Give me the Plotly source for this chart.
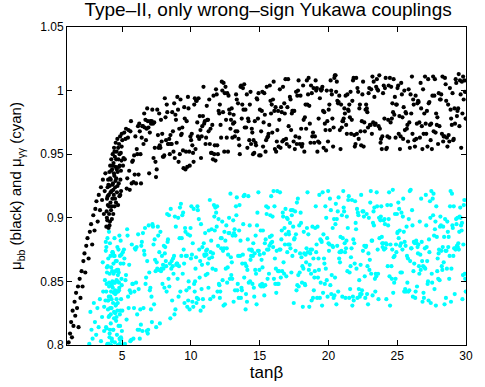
import plotly.graph_objects as go

# ---- mu_bb (black) ----
# low tanb tail and the dense tip near tanb ~ 4, as (tanb, mu) pairs
bb_tail = [
    (1.12, 0.802), (1.22, 0.809), (1.30, 0.818), (1.36, 0.806), (1.41, 0.827), (1.47, 0.815), (1.55, 0.834),
    (1.60, 0.823), (1.66, 0.841), (1.73, 0.829), (1.80, 0.846), (1.84, 0.814), (1.92, 0.852), (1.98, 0.837),
    (2.06, 0.858), (2.13, 0.846), (2.19, 0.866), (2.27, 0.872), (2.33, 0.857), (2.40, 0.878), (2.49, 0.884),
    (2.57, 0.868), (2.66, 0.889), (2.75, 0.895), (2.83, 0.879), (2.91, 0.902), (3.00, 0.890), (3.06, 0.907),
    (3.14, 0.913), (3.23, 0.897), (3.31, 0.918), (3.40, 0.906), (3.47, 0.924), (3.55, 0.914), (3.61, 0.930),
    (3.68, 0.903), (3.74, 0.921), (3.79, 0.935),
]
bb_tip = [
    (3.86, 0.893), (3.88, 0.905), (3.91, 0.915), (3.93, 0.898), (3.95, 0.924), (3.97, 0.910), (3.99, 0.930),
    (4.02, 0.892), (4.04, 0.918), (4.06, 0.903), (4.08, 0.936), (4.10, 0.925), (4.12, 0.897), (4.14, 0.941),
    (4.16, 0.912), (4.18, 0.930), (4.20, 0.906), (4.22, 0.946), (4.24, 0.921), (4.26, 0.899), (4.28, 0.938),
    (4.30, 0.915), (4.32, 0.950), (4.34, 0.927), (4.36, 0.903), (4.38, 0.943), (4.40, 0.918), (4.42, 0.955),
    (4.44, 0.933), (4.46, 0.909), (4.48, 0.948), (4.50, 0.924), (4.52, 0.940), (4.54, 0.959), (4.56, 0.912),
    (4.58, 0.931), (4.61, 0.952), (4.63, 0.920), (4.66, 0.962), (4.68, 0.936), (4.71, 0.910), (4.73, 0.946),
    (4.76, 0.927), (4.78, 0.958), (4.81, 0.917), (4.83, 0.941), (4.86, 0.964), (4.88, 0.930), (4.91, 0.951),
    (4.93, 0.921), (4.96, 0.945), (4.98, 0.966), (3.90, 0.900), (3.96, 0.917), (4.01, 0.926), (4.05, 0.909),
    (4.09, 0.894), (4.13, 0.931), (4.17, 0.920), (4.21, 0.937), (4.25, 0.909), (4.29, 0.926), (4.33, 0.941),
    (4.37, 0.922), (4.41, 0.935), (4.45, 0.952), (4.49, 0.915), (4.53, 0.929), (4.57, 0.946), (4.62, 0.938),
    (4.67, 0.925), (4.72, 0.955), (4.77, 0.940), (4.82, 0.950), (4.87, 0.918), (4.92, 0.937), (4.97, 0.956),
]

# the band from tanb = 5 to 30
bb_band_tanb = [
    5.02, 5.07, 5.11, 5.16, 5.20, 5.25, 5.29, 5.34, 5.38, 5.43, 5.47, 5.52, 5.56, 5.61, 5.65, 5.70, 5.74, 5.79, 5.83, 5.88, 5.92, 5.97,
    6.02, 6.07, 6.11, 6.16, 6.20, 6.25, 6.29, 6.34, 6.38, 6.43, 6.47, 6.52, 6.56, 6.61, 6.65, 6.70, 6.74, 6.79, 6.83, 6.88, 6.92, 6.97,
    7.02, 7.07, 7.11, 7.16, 7.20, 7.25, 7.29, 7.34, 7.38, 7.43, 7.47, 7.52, 7.56, 7.61, 7.65, 7.70, 7.74, 7.79, 7.83, 7.88, 7.92, 7.97,
    8.02, 8.07, 8.11, 8.16, 8.20, 8.25, 8.29, 8.34, 8.38, 8.43, 8.47, 8.52, 8.56, 8.61, 8.65, 8.70, 8.74, 8.79, 8.83, 8.88, 8.92, 8.97,
    9.02, 9.07, 9.11, 9.16, 9.20, 9.25, 9.29, 9.34, 9.38, 9.43, 9.47, 9.52, 9.56, 9.61, 9.65, 9.70, 9.74, 9.79, 9.83, 9.88, 9.92, 9.97,
    10.02, 10.07, 10.11, 10.16, 10.20, 10.25, 10.29, 10.34, 10.38, 10.43, 10.47, 10.52, 10.56, 10.61, 10.65, 10.70, 10.74, 10.79, 10.83, 10.88, 10.92, 10.97,
    11.02, 11.07, 11.11, 11.16, 11.20, 11.25, 11.29, 11.34, 11.38, 11.43, 11.47, 11.52, 11.56, 11.61, 11.65, 11.70, 11.74, 11.79, 11.83, 11.88, 11.92, 11.97,
    12.02, 12.07, 12.11, 12.16, 12.20, 12.25, 12.29, 12.34, 12.38, 12.43, 12.47, 12.52, 12.56, 12.61, 12.65, 12.70, 12.74, 12.79, 12.83, 12.88, 12.92, 12.97,
    13.02, 13.07, 13.11, 13.16, 13.20, 13.25, 13.29, 13.34, 13.38, 13.43, 13.47, 13.52, 13.56, 13.61, 13.65, 13.70, 13.74, 13.79, 13.83, 13.88, 13.92, 13.97,
    14.02, 14.07, 14.11, 14.16, 14.20, 14.25, 14.29, 14.34, 14.38, 14.43, 14.47, 14.52, 14.56, 14.61, 14.65, 14.70, 14.74, 14.79, 14.83, 14.88, 14.92, 14.97,
    15.02, 15.07, 15.11, 15.16, 15.20, 15.25, 15.29, 15.34, 15.38, 15.43, 15.47, 15.52, 15.56, 15.61, 15.65, 15.70, 15.74, 15.79, 15.83, 15.88, 15.92, 15.97,
    16.02, 16.07, 16.11, 16.16, 16.20, 16.25, 16.29, 16.34, 16.38, 16.43, 16.47, 16.52, 16.56, 16.61, 16.65, 16.70, 16.74, 16.79, 16.83, 16.88, 16.92, 16.97,
    17.02, 17.07, 17.11, 17.16, 17.20, 17.25, 17.29, 17.34, 17.38, 17.43, 17.47, 17.52, 17.56, 17.61, 17.65, 17.70, 17.74, 17.79, 17.83, 17.88, 17.92, 17.97,
    18.02, 18.07, 18.11, 18.16, 18.20, 18.25, 18.29, 18.34, 18.38, 18.43, 18.47, 18.52, 18.56, 18.61, 18.65, 18.70, 18.74, 18.79, 18.83, 18.88, 18.92, 18.97,
    19.02, 19.07, 19.11, 19.16, 19.20, 19.25, 19.29, 19.34, 19.38, 19.43, 19.47, 19.52, 19.56, 19.61, 19.65, 19.70, 19.74, 19.79, 19.83, 19.88, 19.92, 19.97,
    20.02, 20.07, 20.11, 20.16, 20.20, 20.25, 20.29, 20.34, 20.38, 20.43, 20.47, 20.52, 20.56, 20.61, 20.65, 20.70, 20.74, 20.79, 20.83, 20.88, 20.92, 20.97,
    21.02, 21.07, 21.11, 21.16, 21.20, 21.25, 21.29, 21.34, 21.38, 21.43, 21.47, 21.52, 21.56, 21.61, 21.65, 21.70, 21.74, 21.79, 21.83, 21.88, 21.92, 21.97,
    22.02, 22.07, 22.11, 22.16, 22.20, 22.25, 22.29, 22.34, 22.38, 22.43, 22.47, 22.52, 22.56, 22.61, 22.65, 22.70, 22.74, 22.79, 22.83, 22.88, 22.92, 22.97,
    23.02, 23.07, 23.11, 23.16, 23.20, 23.25, 23.29, 23.34, 23.38, 23.43, 23.47, 23.52, 23.56, 23.61, 23.65, 23.70, 23.74, 23.79, 23.83, 23.88, 23.92, 23.97,
    24.02, 24.07, 24.11, 24.16, 24.20, 24.25, 24.29, 24.34, 24.38, 24.43, 24.47, 24.52, 24.56, 24.61, 24.65, 24.70, 24.74, 24.79, 24.83, 24.88, 24.92, 24.97,
    25.02, 25.07, 25.11, 25.16, 25.20, 25.25, 25.29, 25.34, 25.38, 25.43, 25.47, 25.52, 25.56, 25.61, 25.65, 25.70, 25.74, 25.79, 25.83, 25.88, 25.92, 25.97,
    26.02, 26.07, 26.11, 26.16, 26.20, 26.25, 26.29, 26.34, 26.38, 26.43, 26.47, 26.52, 26.56, 26.61, 26.65, 26.70, 26.74, 26.79, 26.83, 26.88, 26.92, 26.97,
    27.02, 27.07, 27.11, 27.16, 27.20, 27.25, 27.29, 27.34, 27.38, 27.43, 27.47, 27.52, 27.56, 27.61, 27.65, 27.70, 27.74, 27.79, 27.83, 27.88, 27.92, 27.97,
    28.02, 28.07, 28.11, 28.16, 28.20, 28.25, 28.29, 28.34, 28.38, 28.43, 28.47, 28.52, 28.56, 28.61, 28.65, 28.70, 28.74, 28.79, 28.83, 28.88, 28.92, 28.97,
    29.02, 29.07, 29.11, 29.16, 29.20, 29.25, 29.29, 29.34, 29.38, 29.43, 29.47, 29.52, 29.56, 29.61, 29.65, 29.70, 29.74, 29.79, 29.83, 29.88, 29.92, 29.97,
]
bb_band_mu = [
    0.961, 0.941, 0.947, 0.967, 0.946, 0.962, 0.970, 0.923, 0.931, 0.963, 0.969, 0.937, 0.922, 0.968, 0.976, 0.927, 0.944, 0.945, 0.928, 0.949, 0.934, 0.964,
    0.927, 0.954, 0.950, 0.972, 0.934, 0.974, 0.968, 0.950, 0.927, 0.963, 0.972, 0.972, 0.958, 0.982, 0.971, 0.977, 0.961, 0.970, 0.986, 0.976, 0.971, 0.935,
    0.967, 0.976, 0.974, 0.976, 0.985, 0.974, 0.947, 0.975, 0.955, 0.944, 0.932, 0.938, 0.985, 0.965, 0.955, 0.982, 0.957, 0.955, 0.977, 0.960, 0.966, 0.948,
    0.948, 0.949, 0.994, 0.979, 0.961, 0.989, 0.983, 0.958, 0.958, 0.962, 0.950, 0.965, 0.958, 0.958, 0.983, 0.968, 0.952, 0.990, 0.947, 0.981, 0.977, 0.959,
    0.995, 0.985, 0.944, 0.970, 0.950, 0.993, 0.965, 0.966, 0.971, 0.953, 0.939, 0.987, 0.978, 0.938, 0.952, 0.976, 0.940, 0.995, 0.986, 0.952, 0.941, 0.964,
    0.961, 0.966, 0.957, 0.951, 0.944, 0.989, 0.994, 0.954, 0.992, 0.992, 0.975, 0.964, 0.994, 0.962, 0.980, 0.969, 0.947, 0.964, 0.972, 0.980, 1.003, 0.974,
    0.976, 0.958, 0.963, 0.988, 0.977, 0.977, 0.968, 0.993, 0.958, 0.970, 0.951, 0.951, 0.973, 0.946, 0.996, 0.950, 0.957, 0.945, 1.001, 0.997, 0.957, 0.950,
    0.984, 0.982, 0.989, 0.973, 0.963, 1.007, 1.000, 0.983, 1.006, 0.952, 0.998, 1.003, 0.977, 0.963, 0.998, 0.952, 0.996, 0.985, 0.982, 0.970, 0.977, 0.986,
    0.963, 0.974, 0.981, 0.975, 0.964, 0.968, 0.997, 0.993, 0.968, 0.990, 0.962, 0.957, 0.950, 1.003, 1.004, 0.978, 0.989, 1.002, 0.985, 1.005, 0.971, 0.985,
    0.971, 0.997, 0.955, 0.978, 0.976, 0.961, 0.989, 0.999, 0.958, 0.970, 0.967, 0.950, 0.961, 0.951, 0.976, 0.959, 0.957, 0.994, 0.993, 0.978, 0.998, 0.949,
    0.985, 0.949, 0.968, 0.984, 0.999, 0.956, 0.975, 0.998, 0.981, 0.952, 0.961, 1.003, 0.963, 0.964, 0.966, 0.973, 1.004, 0.992, 0.982, 0.989, 0.967, 0.993,
    1.007, 0.984, 0.954, 0.987, 0.952, 0.960, 0.969, 0.984, 0.956, 0.977, 1.001, 0.955, 0.987, 0.983, 0.960, 1.003, 0.961, 0.990, 0.982, 1.009, 0.962, 0.958,
    0.987, 1.009, 0.972, 0.956, 0.995, 0.993, 0.969, 0.982, 0.984, 0.984, 0.960, 0.984, 0.954, 0.964, 0.999, 0.958, 0.996, 1.000, 1.008, 0.963, 0.958, 0.996,
    0.970, 0.956, 0.958, 1.004, 0.977, 0.952, 0.979, 0.989, 0.970, 1.008, 0.989, 0.997, 1.010, 0.988, 0.974, 0.959, 1.004, 0.998, 0.964, 0.967, 1.002, 0.959,
    0.964, 1.008, 1.000, 1.002, 0.952, 0.960, 0.978, 0.959, 0.994, 1.001, 1.000, 1.001, 1.003, 0.984, 0.955, 0.983, 0.974, 0.969, 0.953, 1.000, 0.976, 0.960,
    0.985, 0.989, 0.969, 1.008, 1.000, 0.997, 0.978, 0.956, 0.971, 1.010, 1.012, 1.012, 0.999, 1.007, 0.992, 0.990, 0.991, 0.996, 0.969, 0.954, 0.989, 0.971,
    0.976, 0.976, 0.978, 0.986, 0.982, 0.996, 0.973, 0.966, 0.997, 0.985, 0.984, 0.989, 0.979, 0.999, 0.966, 0.977, 0.992, 1.008, 1.010, 0.965, 0.956, 0.958,
    1.010, 0.966, 1.002, 0.999, 0.962, 0.986, 0.989, 0.968, 0.957, 0.976, 0.997, 1.007, 0.956, 0.975, 0.968, 0.985, 0.989, 0.986, 0.983, 0.971, 0.998, 1.002,
    0.973, 0.973, 1.001, 0.966, 1.011, 0.975, 1.007, 0.995, 0.973, 0.974, 1.003, 1.009, 1.001, 1.000, 0.972, 1.012, 0.970, 0.959, 0.962, 0.954, 0.964, 0.998,
    1.004, 0.978, 1.002, 1.010, 0.954, 0.955, 0.964, 0.977, 1.004, 0.963, 1.010, 0.975, 1.003, 0.978, 0.990, 0.983, 1.009, 0.981, 0.995, 0.963, 0.989, 0.989,
    1.002, 1.004, 0.966, 0.980, 0.954, 0.964, 1.006, 0.997, 0.979, 0.962, 0.987, 1.000, 0.969, 0.983, 0.982, 0.970, 0.973, 0.960, 1.001, 0.975, 0.955, 0.997,
    0.982, 1.011, 0.966, 0.993, 0.989, 0.961, 0.956, 0.996, 0.962, 0.974, 0.990, 0.992, 0.991, 0.975, 0.963, 1.006, 0.986, 0.972, 0.954, 1.001, 0.966, 0.982,
    1.011, 0.974, 0.966, 0.984, 0.956, 1.009, 0.990, 0.991, 0.973, 0.961, 0.974, 0.954, 0.996, 1.011, 0.968, 0.996, 1.009, 0.967, 0.982, 0.973, 0.979, 0.958,
    0.998, 0.972, 0.993, 0.993, 0.997, 0.966, 1.011, 0.960, 0.964, 0.964, 1.010, 1.005, 0.992, 0.963, 0.956, 0.989, 0.965, 0.960, 1.002, 0.985, 0.978, 0.973,
    0.998, 0.961, 0.962, 0.986, 0.974, 1.009, 1.006, 0.980, 0.984, 0.986, 1.013, 0.972, 1.008, 0.997, 0.955, 1.007, 0.982, 1.011, 0.993, 1.008, 0.999, 0.978,
]

# ---- mu_gammagamma (cyan) ----
gg_left = [
    (2.62, 0.801), (2.70, 0.826), (2.78, 0.812), (2.86, 0.805), (2.95, 0.833), (3.03, 0.818), (3.12, 0.808),
    (3.21, 0.829), (3.30, 0.814), (3.39, 0.836), (3.47, 0.803), (3.55, 0.822), (3.63, 0.842), (3.70, 0.811),
    (3.76, 0.851), (3.60, 0.865), (3.70, 0.830),
    (3.82, 0.874), (3.85, 0.842), (3.88, 0.813), (3.91, 0.857), (3.94, 0.801), (3.97, 0.835), (4.00, 0.868),
    (4.03, 0.822), (4.06, 0.849), (4.09, 0.806), (4.12, 0.880), (4.15, 0.838), (4.18, 0.817), (4.21, 0.861),
    (4.24, 0.829), (4.27, 0.803), (4.30, 0.873), (4.33, 0.845), (4.36, 0.812), (4.39, 0.856), (4.42, 0.826),
    (4.45, 0.884), (4.48, 0.802), (4.51, 0.840), (4.54, 0.866), (4.57, 0.819), (4.60, 0.851), (4.63, 0.808),
    (4.66, 0.877), (4.69, 0.833), (4.72, 0.859), (4.75, 0.815), (4.78, 0.843), (4.81, 0.886), (4.84, 0.824),
    (4.87, 0.804), (4.90, 0.864), (4.93, 0.836), (4.96, 0.852), (4.99, 0.811), (4.05, 0.889), (4.20, 0.800),
    (4.35, 0.833), (4.50, 0.825), (4.40, 0.870), (4.10, 0.856), (4.25, 0.847), (4.60, 0.836), (4.70, 0.800),
    (4.85, 0.870),
]
gg_col_tanb = [
    3.80, 3.82, 3.84, 3.86, 3.88, 3.90, 3.92, 3.94, 3.96, 3.98, 4.00, 4.02, 4.04, 4.06, 4.08, 4.10, 4.12, 4.14, 4.16, 4.18,
    4.20, 4.22, 4.24, 4.26, 4.28, 4.30, 4.32, 4.34, 4.36, 4.38, 4.40, 4.42, 4.44, 4.46, 4.48, 4.50, 4.52, 4.54, 4.56, 4.58,
    4.60, 4.62, 4.64, 4.66, 4.68, 4.70, 4.72, 4.74, 4.76, 4.78, 4.80, 4.82, 4.84, 4.86, 4.88, 4.90, 4.92, 4.94, 4.96, 4.98,
]
gg_col_mu = [
    0.835, 0.881, 0.814, 0.877, 0.848, 0.861, 0.800, 0.884, 0.862, 0.828, 0.835, 0.801, 0.838, 0.846, 0.823, 0.809, 0.812, 0.829, 0.870, 0.824,
    0.842, 0.848, 0.836, 0.805, 0.858, 0.850, 0.873, 0.872, 0.812, 0.864, 0.841, 0.821, 0.849, 0.870, 0.849, 0.843, 0.858, 0.831, 0.841, 0.832,
    0.822, 0.866, 0.859, 0.827, 0.850, 0.855, 0.842, 0.875, 0.857, 0.849, 0.845, 0.805, 0.801, 0.815, 0.827, 0.882, 0.806, 0.805, 0.871, 0.847,
]
gg_band_tanb = [
    5.02, 5.06, 5.10, 5.14, 5.17, 5.21, 5.25, 5.29, 5.33, 5.37, 5.40, 5.44, 5.48, 5.52, 5.56, 5.60, 5.63, 5.67, 5.71, 5.75, 5.79, 5.83, 5.87, 5.90, 5.94, 5.98,
    6.02, 6.06, 6.10, 6.14, 6.17, 6.21, 6.25, 6.29, 6.33, 6.37, 6.40, 6.44, 6.48, 6.52, 6.56, 6.60, 6.63, 6.67, 6.71, 6.75, 6.79, 6.83, 6.87, 6.90, 6.94, 6.98,
    7.02, 7.06, 7.10, 7.14, 7.17, 7.21, 7.25, 7.29, 7.33, 7.37, 7.40, 7.44, 7.48, 7.52, 7.56, 7.60, 7.63, 7.67, 7.71, 7.75, 7.79, 7.83, 7.87, 7.90, 7.94, 7.98,
    8.01, 8.04, 8.08, 8.11, 8.14, 8.18, 8.21, 8.24, 8.28, 8.31, 8.34, 8.38, 8.41, 8.44, 8.48, 8.51, 8.54, 8.58, 8.61, 8.64, 8.68, 8.71, 8.74, 8.78, 8.81, 8.84, 8.88, 8.91, 8.94, 8.98,
    9.01, 9.04, 9.08, 9.11, 9.14, 9.18, 9.21, 9.24, 9.28, 9.31, 9.34, 9.38, 9.41, 9.44, 9.48, 9.51, 9.54, 9.58, 9.61, 9.64, 9.68, 9.71, 9.74, 9.78, 9.81, 9.84, 9.88, 9.91, 9.94, 9.98,
    10.01, 10.04, 10.08, 10.11, 10.14, 10.18, 10.21, 10.24, 10.28, 10.31, 10.34, 10.38, 10.41, 10.44, 10.48, 10.51, 10.54, 10.58, 10.61, 10.64, 10.68, 10.71, 10.74, 10.78, 10.81, 10.84, 10.88, 10.91, 10.94, 10.98,
    11.01, 11.04, 11.08, 11.11, 11.14, 11.18, 11.21, 11.24, 11.28, 11.31, 11.34, 11.38, 11.41, 11.44, 11.48, 11.51, 11.54, 11.58, 11.61, 11.64, 11.68, 11.71, 11.74, 11.78, 11.81, 11.84, 11.88, 11.91, 11.94, 11.98,
    12.01, 12.04, 12.08, 12.11, 12.14, 12.18, 12.21, 12.24, 12.28, 12.31, 12.34, 12.38, 12.41, 12.44, 12.48, 12.51, 12.54, 12.58, 12.61, 12.64, 12.68, 12.71, 12.74, 12.78, 12.81, 12.84, 12.88, 12.91, 12.94, 12.98,
    13.01, 13.04, 13.08, 13.11, 13.14, 13.18, 13.21, 13.24, 13.28, 13.31, 13.34, 13.38, 13.41, 13.44, 13.48, 13.51, 13.54, 13.58, 13.61, 13.64, 13.68, 13.71, 13.74, 13.78, 13.81, 13.84, 13.88, 13.91, 13.94, 13.98,
    14.01, 14.04, 14.08, 14.11, 14.14, 14.18, 14.21, 14.24, 14.28, 14.31, 14.34, 14.38, 14.41, 14.44, 14.48, 14.51, 14.54, 14.58, 14.61, 14.64, 14.68, 14.71, 14.74, 14.78, 14.81, 14.84, 14.88, 14.91, 14.94, 14.98,
    15.01, 15.04, 15.08, 15.11, 15.14, 15.18, 15.21, 15.24, 15.28, 15.31, 15.34, 15.38, 15.41, 15.44, 15.48, 15.51, 15.54, 15.58, 15.61, 15.64, 15.68, 15.71, 15.74, 15.78, 15.81, 15.84, 15.88, 15.91, 15.94, 15.98,
    16.01, 16.04, 16.08, 16.11, 16.14, 16.18, 16.21, 16.24, 16.28, 16.31, 16.34, 16.38, 16.41, 16.44, 16.48, 16.51, 16.54, 16.58, 16.61, 16.64, 16.68, 16.71, 16.74, 16.78, 16.81, 16.84, 16.88, 16.91, 16.94, 16.98,
    17.01, 17.04, 17.08, 17.11, 17.14, 17.18, 17.21, 17.24, 17.28, 17.31, 17.34, 17.38, 17.41, 17.44, 17.48, 17.51, 17.54, 17.58, 17.61, 17.64, 17.68, 17.71, 17.74, 17.78, 17.81, 17.84, 17.88, 17.91, 17.94, 17.98,
    18.01, 18.04, 18.08, 18.11, 18.14, 18.18, 18.21, 18.24, 18.28, 18.31, 18.34, 18.38, 18.41, 18.44, 18.48, 18.51, 18.54, 18.58, 18.61, 18.64, 18.68, 18.71, 18.74, 18.78, 18.81, 18.84, 18.88, 18.91, 18.94, 18.98,
    19.01, 19.04, 19.08, 19.11, 19.14, 19.18, 19.21, 19.24, 19.28, 19.31, 19.34, 19.38, 19.41, 19.44, 19.48, 19.51, 19.54, 19.58, 19.61, 19.64, 19.68, 19.71, 19.74, 19.78, 19.81, 19.84, 19.88, 19.91, 19.94, 19.98,
    20.01, 20.04, 20.08, 20.11, 20.14, 20.18, 20.21, 20.24, 20.28, 20.31, 20.34, 20.38, 20.41, 20.44, 20.48, 20.51, 20.54, 20.58, 20.61, 20.64, 20.68, 20.71, 20.74, 20.78, 20.81, 20.84, 20.88, 20.91, 20.94, 20.98,
    21.01, 21.04, 21.08, 21.11, 21.14, 21.18, 21.21, 21.24, 21.28, 21.31, 21.34, 21.38, 21.41, 21.44, 21.48, 21.51, 21.54, 21.58, 21.61, 21.64, 21.68, 21.71, 21.74, 21.78, 21.81, 21.84, 21.88, 21.91, 21.94, 21.98,
    22.01, 22.04, 22.08, 22.11, 22.14, 22.18, 22.21, 22.24, 22.28, 22.31, 22.34, 22.38, 22.41, 22.44, 22.48, 22.51, 22.54, 22.58, 22.61, 22.64, 22.68, 22.71, 22.74, 22.78, 22.81, 22.84, 22.88, 22.91, 22.94, 22.98,
    23.01, 23.04, 23.08, 23.11, 23.14, 23.18, 23.21, 23.24, 23.28, 23.31, 23.34, 23.38, 23.41, 23.44, 23.48, 23.51, 23.54, 23.58, 23.61, 23.64, 23.68, 23.71, 23.74, 23.78, 23.81, 23.84, 23.88, 23.91, 23.94, 23.98,
    24.01, 24.04, 24.08, 24.11, 24.14, 24.18, 24.21, 24.24, 24.28, 24.31, 24.34, 24.38, 24.41, 24.44, 24.48, 24.51, 24.54, 24.58, 24.61, 24.64, 24.68, 24.71, 24.74, 24.78, 24.81, 24.84, 24.88, 24.91, 24.94, 24.98,
    25.01, 25.04, 25.08, 25.11, 25.14, 25.18, 25.21, 25.24, 25.28, 25.31, 25.34, 25.38, 25.41, 25.44, 25.48, 25.51, 25.54, 25.58, 25.61, 25.64, 25.68, 25.71, 25.74, 25.78, 25.81, 25.84, 25.88, 25.91, 25.94, 25.98,
    26.01, 26.04, 26.08, 26.11, 26.14, 26.18, 26.21, 26.24, 26.28, 26.31, 26.34, 26.38, 26.41, 26.44, 26.48, 26.51, 26.54, 26.58, 26.61, 26.64, 26.68, 26.71, 26.74, 26.78, 26.81, 26.84, 26.88, 26.91, 26.94, 26.98,
    27.01, 27.04, 27.08, 27.11, 27.14, 27.18, 27.21, 27.24, 27.28, 27.31, 27.34, 27.38, 27.41, 27.44, 27.48, 27.51, 27.54, 27.58, 27.61, 27.64, 27.68, 27.71, 27.74, 27.78, 27.81, 27.84, 27.88, 27.91, 27.94, 27.98,
    28.01, 28.04, 28.08, 28.11, 28.14, 28.18, 28.21, 28.24, 28.28, 28.31, 28.34, 28.38, 28.41, 28.44, 28.48, 28.51, 28.54, 28.58, 28.61, 28.64, 28.68, 28.71, 28.74, 28.78, 28.81, 28.84, 28.88, 28.91, 28.94, 28.98,
    29.01, 29.04, 29.08, 29.11, 29.14, 29.18, 29.21, 29.24, 29.28, 29.31, 29.34, 29.38, 29.41, 29.44, 29.48, 29.51, 29.54, 29.58, 29.61, 29.64, 29.68, 29.71, 29.74, 29.78, 29.81, 29.84, 29.88, 29.91, 29.94, 29.98,
]
gg_band_mu = [
    0.827, 0.873, 0.864, 0.875, 0.868, 0.801, 0.851, 0.855, 0.820, 0.891, 0.886, 0.838, 0.829, 0.863, 0.843, 0.803, 0.841, 0.804, 0.879, 0.848, 0.848, 0.805, 0.829, 0.842, 0.876, 0.875,
    0.849, 0.877, 0.824, 0.812, 0.887, 0.844, 0.812, 0.805, 0.828, 0.816, 0.878, 0.881, 0.811, 0.888, 0.829, 0.874, 0.871, 0.892, 0.848, 0.853, 0.811, 0.866, 0.809, 0.812, 0.894, 0.857,
    0.843, 0.845, 0.828, 0.838, 0.818, 0.895, 0.893, 0.879, 0.832, 0.883, 0.867, 0.858, 0.814, 0.865, 0.860, 0.893, 0.886, 0.859, 0.873, 0.817, 0.889, 0.858, 0.860, 0.870, 0.848, 0.863,
    0.860, 0.878, 0.845, 0.872, 0.877, 0.866, 0.862, 0.842, 0.903, 0.881, 0.883, 0.852, 0.902, 0.846, 0.864, 0.821, 0.907, 0.860, 0.866, 0.835, 0.862, 0.868, 0.856, 0.870, 0.824, 0.901, 0.828, 0.893, 0.863, 0.864,
    0.864, 0.852, 0.900, 0.838, 0.862, 0.884, 0.908, 0.842, 0.911, 0.870, 0.884, 0.902, 0.856, 0.904, 0.875, 0.864, 0.833, 0.892, 0.889, 0.870, 0.843, 0.870, 0.830, 0.887, 0.835, 0.850, 0.845, 0.828, 0.886, 0.892,
    0.868, 0.909, 0.871, 0.834, 0.880, 0.830, 0.907, 0.848, 0.842, 0.850, 0.860, 0.869, 0.833, 0.837, 0.909, 0.906, 0.836, 0.899, 0.875, 0.853, 0.866, 0.827, 0.895, 0.844, 0.863, 0.877, 0.836, 0.830, 0.880, 0.871,
    0.870, 0.888, 0.855, 0.874, 0.871, 0.875, 0.856, 0.864, 0.845, 0.890, 0.868, 0.914, 0.836, 0.873, 0.882, 0.891, 0.869, 0.860, 0.872, 0.838, 0.910, 0.901, 0.890, 0.908, 0.859, 0.904, 0.893, 0.909, 0.842, 0.878,
    0.899, 0.848, 0.847, 0.837, 0.842, 0.884, 0.876, 0.884, 0.897, 0.851, 0.874, 0.831, 0.876, 0.889, 0.832, 0.882, 0.860, 0.894, 0.876, 0.849, 0.861, 0.871, 0.888, 0.900, 0.888, 0.852, 0.919, 0.869, 0.855, 0.865,
    0.852, 0.886, 0.898, 0.834, 0.888, 0.891, 0.843, 0.886, 0.909, 0.902, 0.916, 0.843, 0.848, 0.870, 0.837, 0.890, 0.910, 0.870, 0.882, 0.837, 0.845, 0.843, 0.864, 0.871, 0.895, 0.917, 0.853, 0.918, 0.864, 0.828,
    0.840, 0.862, 0.834, 0.859, 0.883, 0.917, 0.849, 0.875, 0.894, 0.850, 0.867, 0.870, 0.875, 0.874, 0.848, 0.870, 0.880, 0.845, 0.838, 0.872, 0.859, 0.886, 0.856, 0.832, 0.894, 0.904, 0.874, 0.920, 0.874, 0.859,
    0.871, 0.847, 0.890, 0.846, 0.867, 0.848, 0.861, 0.890, 0.846, 0.872, 0.839, 0.880, 0.847, 0.883, 0.909, 0.903, 0.875, 0.852, 0.908, 0.875, 0.856, 0.878, 0.885, 0.902, 0.880, 0.917, 0.886, 0.881, 0.901, 0.877,
    0.921, 0.852, 0.909, 0.868, 0.848, 0.860, 0.841, 0.874, 0.921, 0.848, 0.858, 0.848, 0.858, 0.875, 0.920, 0.875, 0.853, 0.883, 0.890, 0.858, 0.904, 0.901, 0.865, 0.856, 0.892, 0.879, 0.907, 0.887, 0.854, 0.900,
    0.873, 0.899, 0.879, 0.889, 0.887, 0.879, 0.896, 0.876, 0.906, 0.857, 0.902, 0.870, 0.906, 0.893, 0.833, 0.883, 0.884, 0.905, 0.874, 0.887, 0.843, 0.912, 0.847, 0.915, 0.855, 0.846, 0.894, 0.857, 0.872, 0.904,
    0.896, 0.869, 0.849, 0.862, 0.830, 0.860, 0.889, 0.872, 0.848, 0.847, 0.871, 0.865, 0.876, 0.892, 0.920, 0.873, 0.887, 0.859, 0.830, 0.863, 0.872, 0.875, 0.856, 0.835, 0.875, 0.893, 0.837, 0.868, 0.843, 0.853,
    0.858, 0.892, 0.909, 0.873, 0.879, 0.837, 0.893, 0.853, 0.868, 0.859, 0.918, 0.837, 0.883, 0.849, 0.882, 0.881, 0.831, 0.920, 0.841, 0.887, 0.868, 0.864, 0.848, 0.909, 0.860, 0.900, 0.851, 0.884, 0.838, 0.921,
    0.880, 0.874, 0.879, 0.915, 0.847, 0.906, 0.840, 0.855, 0.878, 0.892, 0.877, 0.837, 0.899, 0.839, 0.853, 0.895, 0.911, 0.832, 0.899, 0.878, 0.905, 0.842, 0.916, 0.868, 0.873, 0.865, 0.885, 0.873, 0.874, 0.902,
    0.838, 0.884, 0.921, 0.908, 0.905, 0.880, 0.873, 0.837, 0.876, 0.882, 0.901, 0.858, 0.892, 0.914, 0.917, 0.837, 0.857, 0.844, 0.862, 0.869, 0.876, 0.914, 0.831, 0.838, 0.883, 0.835, 0.880, 0.864, 0.913, 0.896,
    0.891, 0.860, 0.907, 0.837, 0.904, 0.902, 0.844, 0.851, 0.838, 0.840, 0.863, 0.918, 0.840, 0.843, 0.905, 0.874, 0.905, 0.901, 0.878, 0.854, 0.837, 0.877, 0.878, 0.903, 0.840, 0.862, 0.832, 0.872, 0.900, 0.859,
    0.867, 0.912, 0.921, 0.856, 0.882, 0.882, 0.839, 0.896, 0.905, 0.894, 0.908, 0.852, 0.842, 0.856, 0.854, 0.920, 0.909, 0.875, 0.856, 0.836, 0.900, 0.884, 0.900, 0.898, 0.901, 0.909, 0.885, 0.880, 0.877, 0.880,
    0.898, 0.875, 0.899, 0.895, 0.876, 0.880, 0.836, 0.879, 0.910, 0.862, 0.894, 0.899, 0.920, 0.854, 0.831, 0.879, 0.910, 0.862, 0.852, 0.875, 0.922, 0.841, 0.869, 0.849, 0.870, 0.903, 0.852, 0.879, 0.873, 0.903,
    0.888, 0.889, 0.912, 0.884, 0.907, 0.890, 0.878, 0.857, 0.880, 0.904, 0.857, 0.875, 0.901, 0.915, 0.889, 0.842, 0.881, 0.844, 0.878, 0.842, 0.893, 0.870, 0.849, 0.868, 0.842, 0.899, 0.843, 0.921, 0.866, 0.922,
    0.876, 0.876, 0.906, 0.894, 0.838, 0.858, 0.881, 0.864, 0.880, 0.837, 0.842, 0.882, 0.880, 0.846, 0.877, 0.872, 0.879, 0.862, 0.856, 0.897, 0.871, 0.859, 0.915, 0.881, 0.866, 0.834, 0.862, 0.841, 0.837, 0.861,
    0.876, 0.860, 0.918, 0.894, 0.877, 0.866, 0.848, 0.850, 0.835, 0.883, 0.873, 0.913, 0.900, 0.833, 0.921, 0.856, 0.849, 0.915, 0.902, 0.919, 0.886, 0.844, 0.891, 0.897, 0.831, 0.909, 0.885, 0.858, 0.868, 0.852,
    0.872, 0.875, 0.851, 0.893, 0.901, 0.894, 0.874, 0.862, 0.859, 0.877, 0.893, 0.865, 0.885, 0.832, 0.899, 0.874, 0.837, 0.874, 0.860, 0.897, 0.889, 0.877, 0.885, 0.852, 0.870, 0.909, 0.921, 0.834, 0.860, 0.919,
    0.894, 0.892, 0.870, 0.909, 0.876, 0.840, 0.876, 0.875, 0.899, 0.895, 0.878, 0.900, 0.877, 0.880, 0.875, 0.889, 0.901, 0.908, 0.900, 0.894, 0.890, 0.896, 0.836, 0.855, 0.879, 0.910, 0.914, 0.856, 0.852, 0.842,
]

x_ticks = [5, 10, 15, 20, 25, 30]
y_ticks = [0.8, 0.85, 0.9, 0.95, 1.0, 1.05]
y_tick_text = ['0.8', '0.85', '0.9', '0.95', '1', '1.05']

FONT = 'Liberation Sans, Arial, sans-serif'

# 合并各段数据
bb_x = [p[0] for p in bb_tail + bb_tip] + bb_band_tanb
bb_y = [p[1] for p in bb_tail + bb_tip] + bb_band_mu
gg_x = [p[0] for p in gg_left] + gg_col_tanb + gg_band_tanb
gg_y = [p[1] for p in gg_left] + gg_col_mu + gg_band_mu

fig = go.Figure()
for xs, ys, color in [(bb_x, bb_y, 'black'), (gg_x, gg_y, '#00ffff')]:
    fig.add_trace(go.Scatter(
        x=xs, y=ys,
        mode='markers',
        marker=dict(color=color, size=4.2, line=dict(width=0)),
        showlegend=False,
        hoverinfo='skip'
    ))

axis_style = dict(
    showline=True, linecolor='black', linewidth=1, mirror='ticks',
    ticks='inside', ticklen=5, tickcolor='black', tickwidth=1,
    showgrid=False, zeroline=False,
    tickfont=dict(family=FONT, size=12, color='black'),
)

fig.update_layout(
    width=485, height=387,
    margin=dict(l=67, r=16, t=27, b=42),
    paper_bgcolor='white', plot_bgcolor='white',
    title=dict(text='Type–II, only wrong–sign Yukawa couplings',
               x=0.5528, xanchor='center', y=0.976, yanchor='middle',
               font=dict(family=FONT, size=19, color='black')),
    xaxis=dict(range=[1, 30], tickvals=x_ticks,
               title=dict(text='tanβ', standoff=0,
                          font=dict(family=FONT, size=17, color='black')),
               **axis_style),
    yaxis=dict(range=[0.8, 1.05], tickvals=y_ticks, ticktext=y_tick_text,
               title=dict(text='μ<sub>bb</sub> (black) and μ<sub>γγ</sub> (cyan)', standoff=14,
                          font=dict(family=FONT, size=15, color='black')),
               **axis_style),
)

# 去掉页面默认的 8px 边距，让图从左上角开始；不显示工具栏
fig.write_html("out.html", config={'displayModeBar': False},
               post_script="document.body.style.margin='0';")
